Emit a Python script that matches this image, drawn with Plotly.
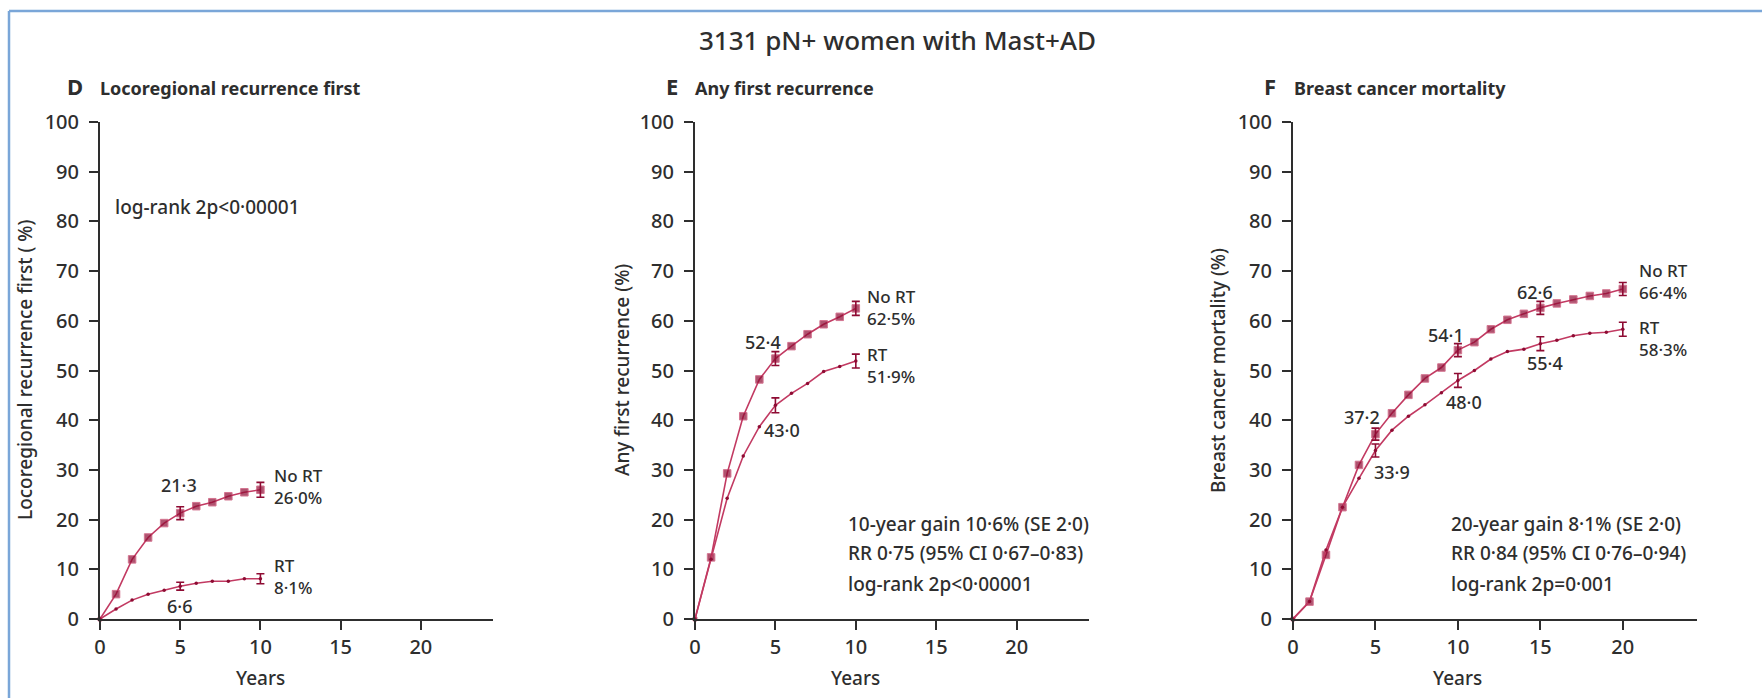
import plotly.graph_objects as go

W, H = 1762, 698
FONT = "Noto Sans SemiCondensed, Noto Sans, Open Sans, sans-serif"
INK = "#2e2e2e"
LINE = "#c23a62"
MARK = "#8e0b33"
FRAME = "#7aa6d8"

# ---- D: locoregional recurrence first (0-10 years) ----
d_years = list(range(11))
d_no_rt = [0, 5.0, 12.0, 16.4, 19.3, 21.3, 22.7, 23.5, 24.7, 25.5, 26.0]
d_rt = [0, 2.0, 3.8, 5.0, 5.8, 6.6, 7.2, 7.6, 7.6, 8.1, 8.1]
d_err_years = [5, 10]
d_no_rt_err = [1.3, 1.5]
d_rt_err = [0.8, 1.0]

# ---- E: any first recurrence (0-10 years) ----
e_years = list(range(11))
e_no_rt = [0, 12.4, 29.3, 40.8, 48.2, 52.4, 54.9, 57.3, 59.3, 60.8, 62.5]
e_rt = [0, 12.0, 24.3, 32.8, 38.7, 43.0, 45.4, 47.4, 49.8, 50.8, 51.9]
e_err_years = [5, 10]
e_no_rt_err = [1.4, 1.4]
e_rt_err = [1.5, 1.4]

# ---- F: breast cancer mortality (0-20 years) ----
f_years = list(range(21))
f_no_rt = [0, 3.5, 12.9, 22.5, 31.0, 37.2, 41.4, 45.1, 48.4, 50.6, 54.1,
           55.7, 58.3, 60.2, 61.4, 62.6, 63.5, 64.3, 65.0, 65.5, 66.4]
f_rt = [0, 3.5, 13.9, 22.5, 28.3, 33.9, 38.0, 40.8, 43.1, 45.5, 48.0,
        50.0, 52.3, 53.8, 54.3, 55.4, 56.1, 57.0, 57.5, 57.7, 58.3]
f_err_years = [5, 10, 15, 20]
f_no_rt_err = [1.2, 1.3, 1.3, 1.3]
f_rt_err = [1.3, 1.4, 1.4, 1.4]

x_ticks = [0, 5, 10, 15, 20]
y_ticks = list(range(0, 101, 10))

panels = [
    dict(years=d_years, no_rt=d_no_rt, rt=d_rt, err_years=d_err_years,
         no_rt_err=d_no_rt_err, rt_err=d_rt_err),
    dict(years=e_years, no_rt=e_no_rt, rt=e_rt, err_years=e_err_years,
         no_rt_err=e_no_rt_err, rt_err=e_rt_err),
    dict(years=f_years, no_rt=f_no_rt, rt=f_rt, err_years=f_err_years,
         no_rt_err=f_no_rt_err, rt_err=f_rt_err),
]

# pixel placement of each panel's plotting area
x_domains_px = [(100, 493), (695, 1089), (1293, 1697)]
y_top_px, y_bot_px = 122, 619


def px_x(v):
    return v / W


def px_y(v):
    return 1 - v / H


def font(size, weight=500):
    return dict(size=size, color=INK, family=FONT, weight=weight)


fig = go.Figure()

for i, p in enumerate(panels):
    n = "" if i == 0 else str(i + 1)
    xa, ya = "x" + n, "y" + n
    yrs = p["years"]

    # untreated arm: filled squares
    fig.add_trace(go.Scatter(
        x=yrs, y=p["no_rt"], xaxis=xa, yaxis=ya, mode="lines+markers",
        line=dict(color=LINE, width=1.6),
        marker=dict(symbol="square", size=[4] + [7.5] * (len(yrs) - 1), color=MARK),
        cliponaxis=False, showlegend=False, hoverinfo="skip"))
    # radiotherapy arm: small dots
    fig.add_trace(go.Scatter(
        x=yrs, y=p["rt"], xaxis=xa, yaxis=ya, mode="lines+markers",
        line=dict(color=LINE, width=1.6),
        marker=dict(symbol="circle", size=3.5, color=MARK),
        cliponaxis=False, showlegend=False, hoverinfo="skip"))

    # standard-error bars at the labelled years
    for series, errs in ((p["no_rt"], p["no_rt_err"]), (p["rt"], p["rt_err"])):
        fig.add_trace(go.Scatter(
            x=p["err_years"], y=[series[yrs.index(t)] for t in p["err_years"]],
            xaxis=xa, yaxis=ya, mode="markers",
            marker=dict(size=1, color="rgba(0,0,0,0)"),
            error_y=dict(type="data", array=errs, visible=True,
                         color=MARK, thickness=1.6, width=4),
            cliponaxis=False, showlegend=False, hoverinfo="skip"))

layout = dict(
    width=W, height=H, autosize=False,
    margin=dict(l=0, r=0, t=0, b=0, pad=0, autoexpand=False),
    paper_bgcolor="white", plot_bgcolor="white",
    font=font(19),
)

for i, (x0, x1) in enumerate(x_domains_px):
    n = "" if i == 0 else str(i + 1)
    layout["xaxis" + n] = dict(
        domain=[px_x(x0), px_x(x1)], anchor="y" + n, range=[0, 24.5],
        tickvals=x_ticks, ticks="outside", ticklen=9, tickwidth=1.6,
        tickcolor=INK, showline=True, linecolor=INK, linewidth=2,
        showgrid=False, zeroline=False, fixedrange=True, automargin=False,
        tickfont=font(20))
    layout["yaxis" + n] = dict(
        domain=[px_y(y_bot_px), px_y(y_top_px)], anchor="x" + n, range=[0, 100],
        tickvals=y_ticks, ticks="outside", ticklen=9, tickwidth=1.6,
        tickcolor=INK, showline=True, linecolor=INK, linewidth=2,
        showgrid=False, zeroline=False, fixedrange=True, automargin=False,
        ticklabelstandoff=6,
        tickfont=font(20))

fig.update_layout(**layout)

ann = []


def note(text, x, y, panel, xanchor="center", size=18):
    n = "" if panel == 0 else str(panel + 1)
    ann.append(dict(text=text, x=x, y=y, xref="x" + n, yref="y" + n,
                    xanchor=xanchor, yanchor="middle", showarrow=False,
                    align="left", font=font(size)))


def paper_note(text, x, y, xanchor="center", size=18, bold=False, angle=0):
    ann.append(dict(text=f"<b>{text}</b>" if bold else text,
                    x=px_x(x), y=px_y(y), xref="paper", yref="paper",
                    xanchor=xanchor, yanchor="middle", showarrow=False,
                    textangle=angle, font=font(size, 700 if bold else 500)))


# figure title and panel headings
paper_note("3131 pN+ women with Mast+AD", 897, 40, size=26)
heads = [("D", 75, 98, "Locoregional recurrence first"),
         ("E", 672, 693, "Any first recurrence"),
         ("F", 1270, 1292, "Breast cancer mortality")]
for letter, lx, tx, text in heads:
    paper_note(letter, lx, 86, size=22, bold=True)
    paper_note(text, tx, 88, xanchor="left", size=18, bold=True)

# y-axis titles
paper_note("Locoregional recurrence first ( %)", 25, 370, size=19, angle=-90)
paper_note("Any first recurrence (%)", 622, 370, size=19, angle=-90)
paper_note("Breast cancer mortality (%)", 1218, 371, size=19, angle=-90)

# x-axis titles
for i in range(3):
    n = "" if i == 0 else str(i + 1)
    ann.append(dict(text="Years", x=10, y=px_y(678), xref="x" + n, yref="paper",
                    xanchor="center", yanchor="middle", showarrow=False,
                    font=font(19)))

# panel D labels
note("log-rank 2p<0·00001", 0.8, 82.9, 0, xanchor="left", size=19)
note("21·3", 4.9, 27.0, 0)
note("6·6", 5.0, 2.6, 0)
note("No RT<br>26·0%", 10.7, 26.6, 0, xanchor="left", size=17)
note("RT<br>8·1%", 10.7, 8.5, 0, xanchor="left", size=17)

# panel E labels
note("52·4", 4.25, 55.7, 1)
note("43·0", 5.4, 38.0, 1)
note("No RT<br>62·5%", 10.6, 62.6, 1, xanchor="left", size=17)
note("RT<br>51·9%", 10.6, 51.0, 1, xanchor="left", size=17)
note("10-year gain 10·6% (SE 2·0)", 9.4, 19.1, 1, xanchor="left", size=19)
note("RR 0·75 (95% CI 0·67–0·83)", 9.4, 13.3, 1, xanchor="left", size=19)
note("log-rank 2p<0·00001", 9.4, 7.0, 1, xanchor="left", size=19)

# panel F labels
note("37·2", 4.2, 40.6, 2)
note("33·9", 6.0, 29.6, 2)
note("54·1", 9.3, 57.1, 2)
note("48·0", 10.4, 43.7, 2)
note("62·6", 14.7, 65.8, 2)
note("55·4", 15.3, 51.5, 2)
note("No RT<br>66·4%", 20.85, 67.9, 2, xanchor="left", size=17)
note("RT<br>58·3%", 20.85, 56.5, 2, xanchor="left", size=17)
note("20-year gain 8·1% (SE 2·0)", 9.45, 19.1, 2, xanchor="left", size=19)
note("RR 0·84 (95% CI 0·76–0·94)", 9.45, 13.3, 2, xanchor="left", size=19)
note("log-rank 2p=0·001", 9.45, 7.0, 2, xanchor="left", size=19)

fig.update_layout(annotations=ann)

# thin blue frame along the top and left edges
fig.add_shape(type="line", xref="paper", yref="paper",
              x0=px_x(9), x1=1, y0=px_y(11), y1=px_y(11),
              line=dict(color=FRAME, width=2.5))
fig.add_shape(type="line", xref="paper", yref="paper",
              x0=px_x(9), x1=px_x(9), y0=px_y(11), y1=0,
              line=dict(color=FRAME, width=2.5))

fig.write_html("out.html")
